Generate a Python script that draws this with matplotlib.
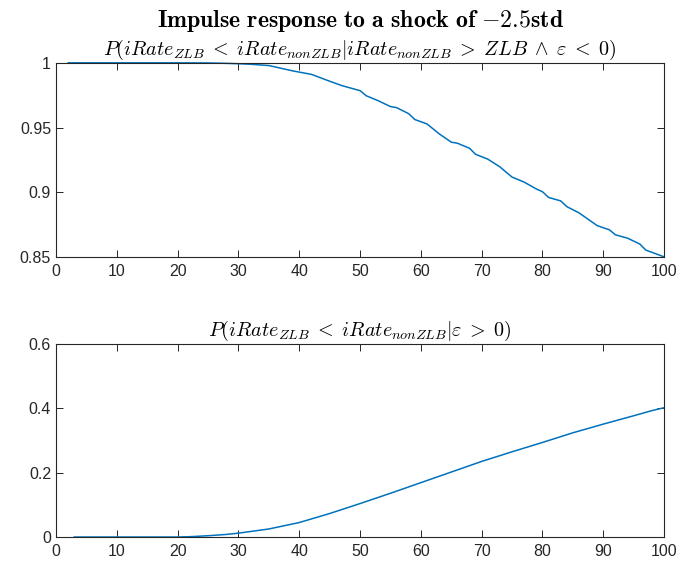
import matplotlib
matplotlib.use("Agg")
import matplotlib.pyplot as plt

plt.rcParams['mathtext.fontset'] = 'cm'
plt.rcParams['font.family'] = ['Liberation Sans Narrow', 'Liberation Sans', 'DejaVu Sans']

# horizon (periods) and probabilities
x_neg = [2, 10, 20, 25, 28, 30, 32, 35, 37, 39,
         42, 45, 47, 50, 51, 53, 55, 56, 58, 59,
         61, 63, 65, 66, 68, 69, 71, 73, 74, 75,
         77, 79, 80, 81, 83, 84, 86, 89, 91, 92,
         94, 96, 97, 100]
p_neg = [1.0, 1.0, 1.0, 0.9999, 0.9996, 0.9993, 0.9989, 0.9979, 0.9958, 0.9937,
         0.9911, 0.9858, 0.9824, 0.9785, 0.9746, 0.9707, 0.9662, 0.9654, 0.9607, 0.9562,
         0.9528, 0.9452, 0.9387, 0.9379, 0.9340, 0.9293, 0.9256, 0.9196, 0.9156, 0.9117,
         0.9078, 0.9025, 0.9004, 0.8960, 0.8933, 0.8889, 0.8841, 0.8742, 0.8710, 0.8671,
         0.8645, 0.8600, 0.8553, 0.8501]

x_pos = [3, 10, 20, 22, 25, 28, 30, 35, 40, 45, 50,
         55, 60, 65, 70, 75, 80, 85, 90, 95, 98, 100]
p_pos = [0.0, 0.0, 0.0, 0.001, 0.004, 0.008, 0.012, 0.025, 0.045, 0.073, 0.104,
         0.136, 0.169, 0.202, 0.235, 0.265, 0.294, 0.324, 0.351, 0.377, 0.393, 0.402]

xticks = list(range(0, 101, 10))
yticks_top = [0.85, 0.9, 0.95, 1]
yticks_bot = [0, 0.2, 0.4, 0.6]

title_main = r'$\mathbf{Impulse\ response\ to\ a\ shock\ of}\ {-}\mathbf{2.5std}$'
title_top = (r'$P(iRate_{ZLB}\;<\;iRate_{nonZLB} | iRate_{nonZLB}\;>\;ZLB'
             r'\;\wedge\;\varepsilon\;<\;0)$')
title_bot = r'$P(iRate_{ZLB}\;<\;iRate_{nonZLB} | \varepsilon\;>\;0)$'

line_col = '#0072BD'
axis_col = '#262626'

fig = plt.figure(figsize=(6.81, 5.66), dpi=100)
ax1 = fig.add_axes([0.0822, 0.546, 0.893, 0.343])
ax2 = fig.add_axes([0.0822, 0.0512, 0.893, 0.341])


def style(ax, yticks, ylabels):
    ax.set_xlim(0, 100)
    ax.set_ylim(yticks[0], yticks[-1])
    ax.set_xticks(xticks)
    ax.set_yticks(yticks)
    ax.set_yticklabels(ylabels)
    ax.tick_params(direction='in', length=5, width=0.7, color=axis_col,
                   labelsize=11.5, labelcolor=axis_col,
                   top=True, right=True)
    ax.tick_params(axis='x', pad=5)
    for sp in ax.spines.values():
        sp.set_color(axis_col)
        sp.set_linewidth(0.8)


ax1.plot(x_neg, p_neg, color=line_col, lw=1.1, clip_on=False)
style(ax1, yticks_top, ['0.85', '0.9', '0.95', '1'])
ax1.set_title(title_top, fontsize=14.5, pad=6)

ax2.plot(x_pos, p_pos, color=line_col, lw=1.1, clip_on=False)
style(ax2, yticks_bot, ['0', '0.2', '0.4', '0.6'])
ax2.set_title(title_bot, fontsize=14.5, pad=6)

# overall heading, centred over the axes
fig.text(0.0822 + 0.893 / 2, 0.963, title_main, ha='center', va='center', fontsize=17.2)

fig.savefig('out.png', dpi=100)
